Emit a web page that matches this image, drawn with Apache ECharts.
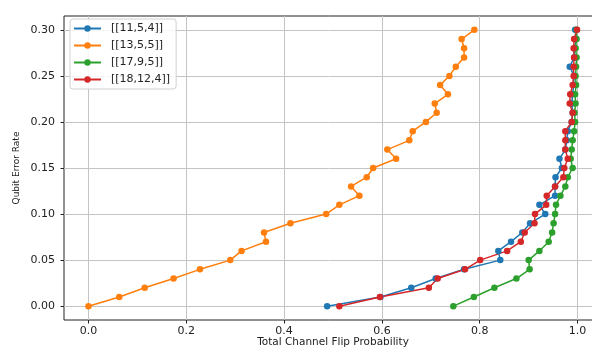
<!DOCTYPE html>
<html>
<head>
<meta charset="utf-8">
<script src="https://cdn.jsdelivr.net/npm/echarts@6/dist/echarts.min.js"></script>
<style>
  html, body { margin: 0; padding: 0; background: #fff; }
  #chart { width: 592px; height: 348px; }
</style>
</head>
<body>
<div id="chart"></div>
<script>
// qubit error rate, one row per point
var errorRates = [0.00, 0.01, 0.02, 0.03, 0.04, 0.05, 0.06, 0.07, 0.08, 0.09, 0.10,
  0.11, 0.12, 0.13, 0.14, 0.15, 0.16, 0.17, 0.18, 0.19, 0.20,
  0.21, 0.22, 0.23, 0.24, 0.25, 0.26, 0.27, 0.28, 0.29, 0.30];

// total channel flip probability per code
var code11_5_4 = [0.488, 0.597, 0.660, 0.710, 0.768, 0.842, 0.838, 0.864, 0.887, 0.903, 0.934,
  0.922, 0.954, 0.954, 0.955, 0.968, 0.963, 0.975, 0.978, 0.980, 0.988,
  0.990, 0.988, 0.990, 0.992, 0.993, 0.984, 0.993, 0.994, 0.997, 0.995];
var code13_5_5 = [0.000, 0.063, 0.115, 0.174, 0.228, 0.290, 0.313, 0.363, 0.359, 0.413, 0.486,
  0.513, 0.554, 0.537, 0.569, 0.582, 0.629, 0.611, 0.656, 0.663, 0.690,
  0.712, 0.708, 0.735, 0.719, 0.738, 0.751, 0.768, 0.768, 0.763, 0.789];
var code17_9_5 = [0.746, 0.788, 0.830, 0.875, 0.902, 0.900, 0.922, 0.941, 0.948, 0.951, 0.954,
  0.956, 0.965, 0.975, 0.980, 0.990, 0.986, 0.988, 0.990, 0.993, 0.995,
  0.994, 0.996, 0.995, 0.997, 0.996, 0.997, 0.998, 0.996, 0.998, 0.998];
var code18_12_4 = [0.513, 0.596, 0.696, 0.714, 0.770, 0.801, 0.856, 0.884, 0.892, 0.912, 0.913,
  0.936, 0.937, 0.954, 0.971, 0.973, 0.980, 0.975, 0.975, 0.975, 0.988,
  0.990, 0.984, 0.985, 0.990, 0.992, 0.992, 0.993, 0.992, 0.993, 0.999];

var names = ['[[11,5,4]]', '[[13,5,5]]', '[[17,9,5]]', '[[18,12,4]]'];
var colors = ['#1f77b4', '#ff7f0e', '#2ca02c', '#d62728'];
var xTicks = [0, 1, 0.2];      // min, max, step
var yTicks = [0, 0.30, 0.05];

var font = 'DejaVu Sans';
var chart = echarts.init(document.getElementById('chart'), null, { renderer: 'canvas' });

function pairs(xs) {
  var out = [];
  for (var i = 0; i < xs.length; i++) out.push([xs[i], errorRates[i]]);
  return out;
}

// frame: x -0.05..1.05, y -0.015..0.315 (5% margins), right side runs past the canvas
var L = 64, T = 16, W = 538, H = 304;
var pxX = W / 1.1, pxY = H / 0.33;

var series = [code11_5_4, code13_5_5, code17_9_5, code18_12_4].map(function (xs, i) {
  return {
    name: names[i],
    type: 'line',
    xAxisIndex: 0,
    yAxisIndex: 0,
    data: pairs(xs),
    symbol: 'circle',
    symbolSize: 6.5,
    showSymbol: true,
    color: colors[i],
    lineStyle: { width: 1.5, color: colors[i] },
    itemStyle: { color: colors[i] }
  };
});

var option = {
  animation: false,
  backgroundColor: '#fff',
  textStyle: { fontFamily: font },
  grid: [
    { left: L, top: T, width: W, height: H, show: true, borderColor: '#222', borderWidth: 1,
      outerBoundsMode: 'none', containLabel: false },
    { left: L + 0.05 * pxX, top: T, width: pxX, height: H, outerBoundsMode: 'none', containLabel: false },
    { left: L, top: T + 0.015 * pxY, width: W, height: 0.30 * pxY, outerBoundsMode: 'none', containLabel: false }
  ],
  xAxis: [
    { gridIndex: 0, type: 'value', min: -0.05, max: 1.05, show: false },
    {
      gridIndex: 1, type: 'value', min: xTicks[0], max: xTicks[1], interval: xTicks[2],
      axisLine: { show: false },
      axisTick: { show: true, length: 3.5, lineStyle: { color: '#222' } },
      axisLabel: { fontSize: 11, color: '#222', margin: 6, fontFamily: font,
        formatter: function (v) { return v.toFixed(1); } },
      splitLine: { show: true, lineStyle: { color: '#c4c4c4', width: 1 } },
      name: 'Total Channel Flip Probability', nameLocation: 'middle', nameGap: 17,
      nameMoveOverlap: false,
      nameTextStyle: { fontSize: 10.5, color: '#222', fontFamily: font }
    },
    { gridIndex: 2, type: 'value', min: 0, max: 1, show: false }
  ],
  yAxis: [
    { gridIndex: 0, type: 'value', min: -0.015, max: 0.315, show: false },
    { gridIndex: 1, type: 'value', min: 0, max: 1, show: false },
    {
      gridIndex: 2, type: 'value', min: yTicks[0], max: yTicks[1], interval: yTicks[2],
      axisLine: { show: false },
      axisTick: { show: true, length: 3.5, lineStyle: { color: '#222' } },
      axisLabel: { fontSize: 11, color: '#222', margin: 9, fontFamily: font,
        formatter: function (v) { return v.toFixed(2); } },
      splitLine: { show: true, lineStyle: { color: '#c4c4c4', width: 1 } },
      name: 'Qubit Error Rate', nameLocation: 'middle', nameGap: 43, nameRotate: 90,
      nameMoveOverlap: false,
      nameTextStyle: { fontSize: 9, color: '#222', fontFamily: font }
    }
  ],
  legend: {
    data: names,
    orient: 'vertical',
    left: 70,
    top: 19,
    padding: [4, 6, 4, 3],
    itemWidth: 27,
    itemHeight: 8,
    itemGap: 6,
    backgroundColor: 'rgba(255,255,255,0.85)',
    borderColor: '#d0d0d0',
    borderWidth: 1,
    borderRadius: 3,
    textStyle: { fontSize: 11, color: '#222', fontFamily: font, padding: [0, 0, 0, 5] }
  },
  series: series
};

chart.setOption(option);
</script>
</body>
</html>
